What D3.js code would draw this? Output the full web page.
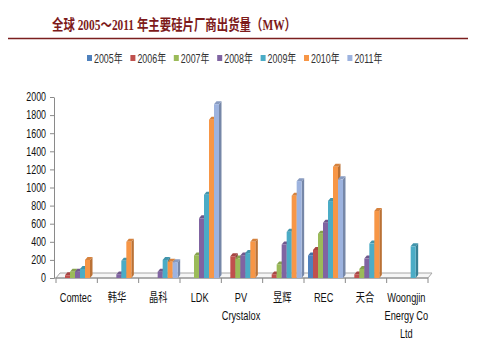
<!DOCTYPE html>
<html>
<head>
<meta charset="utf-8">
<script src="https://cdn.jsdelivr.net/npm/d3@7"></script>
<style>
  body { margin: 0; background: #fff; }
  svg { display: block; }
  .axis text { font-family: "Liberation Sans", "Noto Sans CJK SC", sans-serif; fill: #111; }
  .axis path, .axis line { stroke: #8a8a8a; }
</style>
</head>
<body>
<div id="container"></div>
<script>
const width = 500,
  height = 350,
  margin = { top: 97, bottom: 72, left: 56, right: 72 };

// categories (label lines split for wrapping)
const categories = ["Comtec", "韩华", "晶科", "LDK", "PV Crystalox", "昱辉", "REC", "天合", "Woongjin Energy Co Ltd"];
const labelLines = [["Comtec"], ["韩华"], ["晶科"], ["LDK"], ["PV", "Crystalox"], ["昱辉"], ["REC"], ["天合"], ["Woongjin", "Energy Co", "Ltd"]];
const years = ["2005年", "2006年", "2007年", "2008年", "2009年", "2010年", "2011年"];
const yTicks = [0, 200, 400, 600, 800, 1000, 1200, 1400, 1600, 1800, 2000];

// shipments (MW), null = no bar
const v2005 = [null, null, null, null, null, null, 250, null, null];
const v2006 = [30, null, null, null, 240, 40, 310, 40, null];
const v2007 = [70, null, null, 250, 215, 150, 490, 100, null];
const v2008 = [70, 40, 70, 660, 250, 370, 610, 215, null];
const v2009 = [100, 190, 200, 920, 275, 510, 850, 380, 350];
const v2010 = [200, 400, 180, 1750, 400, 910, 1230, 740, null];
const v2011 = [null, null, 175, 1920, null, 1070, 1090, null, null];
const series = [v2005, v2006, v2007, v2008, v2009, v2010, v2011];

const colors = ["#4f81bd", "#c0504d", "#9bbb59", "#8064a2", "#4bacc6", "#f79646", "#9db3df"];

// the source picture is horizontally squeezed, so text is narrowed too
const squeeze = 0.74;

const svg = d3.select("#container")
  .append("svg")
  .attr("width", width)
  .attr("height", height);

// + TITLE
svg.append("text")
  .attr("x", 52)
  .attr("y", 30)
  .attr("fill", "#7d1a1a")
  .attr("font-family", "'Liberation Serif', 'Noto Sans CJK SC', serif")
  .attr("font-weight", "bold")
  .attr("font-size", 15)
  .attr("textLength", 244)
  .attr("lengthAdjust", "spacingAndGlyphs")
  .text("全球 2005～2011 年主要硅片厂商出货量（MW）");

svg.append("line")
  .attr("x1", 8).attr("x2", 468)
  .attr("y1", 38.5).attr("y2", 38.5)
  .attr("stroke", "#7b1f1f")
  .attr("stroke-width", 1.5);

// + SCALES
const xScale = d3.scaleBand()
  .domain(categories)
  .range([margin.left, width - margin.right])
  .padding(0);

const xInner = d3.scaleBand()
  .domain(years)
  .range([4, 39]);

const yScale = d3.scaleLinear()
  .domain([0, 2000])
  .range([height - margin.bottom, margin.top]);

const base = yScale(0);
const depthX = 2.5, depthY = 3;

// + FLOOR (3d base)
const fx0 = xScale.range()[0], fx1 = xScale.range()[1];
svg.append("path")
  .attr("d", `M${fx0},${base}L${fx1},${base}L${fx1 + 4},${base - 5}L${fx0 + 4},${base - 5}Z`)
  .attr("fill", "#f6f6f6")
  .attr("stroke", "#a6a6a6")
  .attr("stroke-width", 1);

// + AXES
const yAxis = d3.axisLeft(yScale)
  .tickValues(yTicks)
  .tickSize(4)
  .tickSizeOuter(0)
  .tickFormat(d3.format("d"));

const yAxisGroup = svg.append("g")
  .attr("class", "axis")
  .attr("transform", `translate(${margin.left - 2}, 0)`)
  .call(yAxis);
yAxisGroup.selectAll("text")
  .attr("x", -8 / squeeze)
  .attr("transform", `scale(${squeeze},1)`)
  .style("font-size", "12px");

const xAxisGroup = svg.append("g")
  .attr("class", "axis")
  .attr("transform", `translate(0, ${base})`);

xAxisGroup.append("line")
  .attr("x1", fx0 - 2).attr("x2", fx1)
  .attr("stroke", "#8a8a8a");

xAxisGroup.selectAll(".tick")
  .data(categories.concat(["end"]))
  .join("line")
  .attr("class", "tick")
  .attr("x1", (d, i) => i < categories.length ? xScale(d) : fx1)
  .attr("x2", (d, i) => i < categories.length ? xScale(d) : fx1)
  .attr("y1", 0).attr("y2", 5)
  .attr("stroke", "#8a8a8a");

const labels = xAxisGroup.selectAll(".clabel")
  .data(categories)
  .join("g")
  .attr("class", "clabel")
  .attr("transform", d => `translate(${xScale(d) + xScale.bandwidth() / 2 - 1}, 24) scale(${squeeze},1)`)
  .append("text")
  .attr("text-anchor", "middle");

labels.selectAll("tspan")
  .data((d, i) => labelLines[i])
  .join("tspan")
  .attr("x", 0)
  .attr("dy", (d, i) => i === 0 ? 0 : 18)
  .style("font-size", "12.5px")
  .text(d => d);

// + BARS (front face, side, top)
const barData = [];
series.forEach((vals, si) => {
  vals.forEach((v, ci) => {
    if (v != null) barData.push({ year: years[si], cat: categories[ci], value: v, color: colors[si] });
  });
});

const bars = svg.append("g").selectAll("g")
  .data(barData)
  .join("g");

bars.append("path") // side
  .attr("d", d => {
    const x = xScale(d.cat) + xInner(d.year) + xInner.bandwidth();
    const y = yScale(d.value);
    return `M${x},${base}L${x},${y}L${x + depthX},${y - depthY}L${x + depthX},${base - depthY}Z`;
  })
  .attr("fill", d => d3.color(d.color).darker(0.8));

bars.append("path") // top
  .attr("d", d => {
    const x = xScale(d.cat) + xInner(d.year);
    const w = xInner.bandwidth();
    const y = yScale(d.value);
    return `M${x},${y}L${x + w},${y}L${x + w + depthX},${y - depthY}L${x + depthX},${y - depthY}Z`;
  })
  .attr("fill", d => d3.color(d.color).darker(0.4));

bars.append("rect") // front
  .attr("x", d => xScale(d.cat) + xInner(d.year))
  .attr("y", d => yScale(d.value))
  .attr("width", xInner.bandwidth())
  .attr("height", d => base - yScale(d.value))
  .attr("fill", d => d.color);

// + LEGEND
const legend = svg.append("g")
  .selectAll("g")
  .data(years)
  .join("g")
  .attr("transform", (d, i) => `translate(${87 + i * 43.4}, 58)`);

legend.append("rect")
  .attr("x", 0).attr("y", -3)
  .attr("width", 5).attr("height", 6)
  .attr("fill", (d, i) => colors[i]);

legend.append("text")
  .attr("transform", `translate(7, 4.5) scale(${squeeze},1)`)
  .attr("font-family", "'Liberation Sans', 'Noto Sans CJK SC', sans-serif")
  .attr("font-size", 12)
  .attr("fill", "#333")
  .text(d => d);
</script>
</body>
</html>
